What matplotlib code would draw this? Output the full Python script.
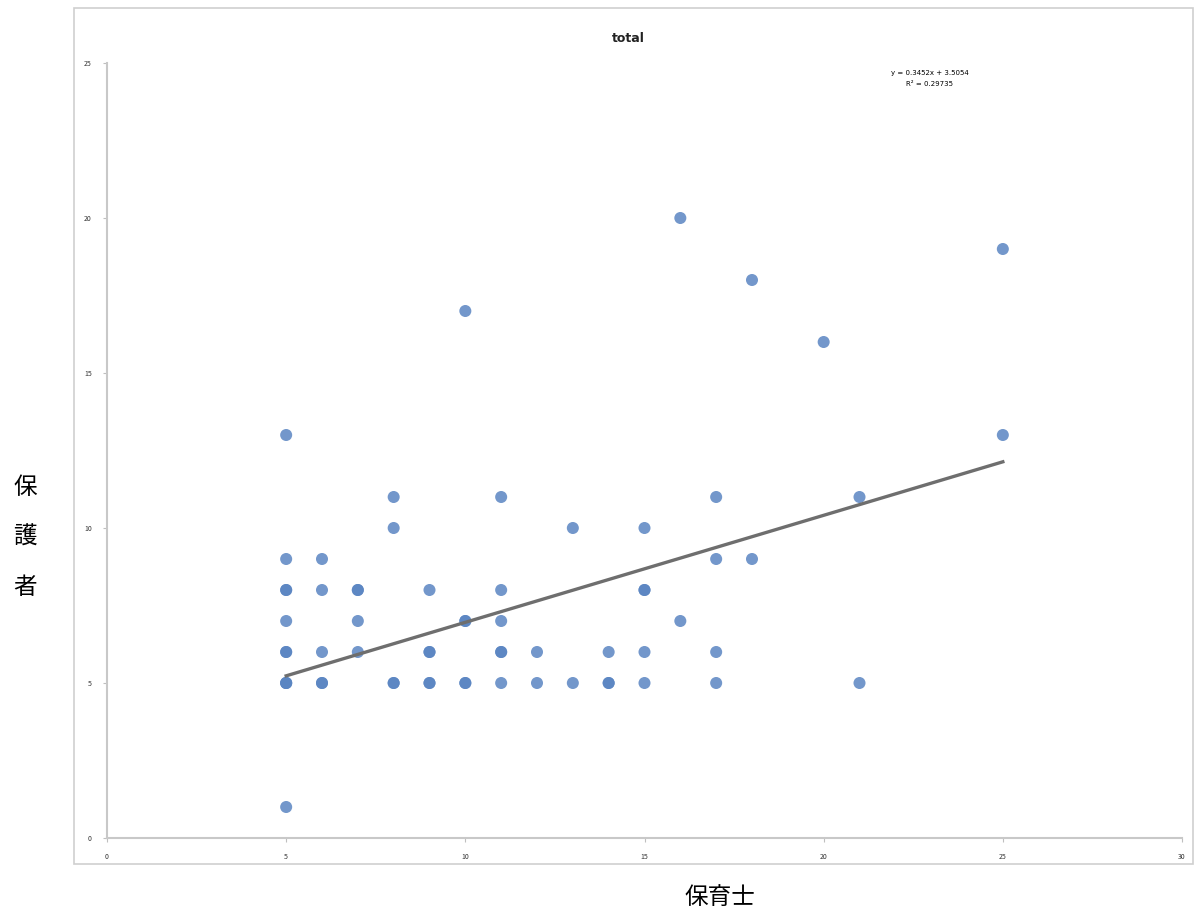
import numpy as np
import matplotlib.pyplot as plt
from matplotlib.patches import Rectangle

plt.rcParams['font.family'] = ['Noto Sans CJK JP', 'DejaVu Sans']

# observed pairs (保育士, 保護者); repeated pairs show as darker dots
x_vals = [5, 5, 5, 5, 5, 5, 5, 5, 5, 5, 5,
          6, 6, 6, 6, 6,
          7, 7, 7, 7,
          8, 8, 8, 8,
          9, 9, 9, 9, 9,
          10, 10, 10, 10, 10,
          11, 11, 11, 11, 11, 11,
          12, 12,
          13, 13,
          14, 14, 14,
          15, 15, 15, 15, 15,
          16, 16,
          17, 17, 17, 17,
          18, 18,
          20,
          21, 21,
          25, 25]
y_vals = [13, 9, 8, 8, 7, 6, 6, 5, 5, 5, 1,
          9, 8, 6, 5, 5,
          8, 8, 7, 6,
          11, 10, 5, 5,
          8, 6, 6, 5, 5,
          17, 7, 7, 5, 5,
          11, 8, 7, 6, 6, 5,
          6, 5,
          10, 5,
          6, 5, 5,
          10, 8, 8, 6, 5,
          20, 7,
          11, 9, 6, 5,
          18, 9,
          16,
          11, 5,
          19, 13]

# trendline shown on the chart
slope = 0.3452
intercept = 3.5054
r_squared = 0.29735
trend_x = [5, 25]

x_ticks = [0, 5, 10, 15, 20, 25, 30]
y_ticks = [0, 5, 10, 15, 20, 25]

fig = plt.figure(figsize=(11.94, 9.16), dpi=100)
fig.patches.append(Rectangle((74 / 1194, 1 - 864 / 916), 1119 / 1194, 856 / 916,
                             transform=fig.transFigure, fill=False,
                             edgecolor='#cfcfcf', linewidth=1.2))

ax = fig.add_axes([107 / 1194, 78 / 916, 1075 / 1194, 775 / 916])
ax.scatter(x_vals, y_vals, s=75, color='#5a85c2', alpha=0.85,
           edgecolors='none', zorder=3)
tx = np.array(trend_x, dtype=float)
ax.plot(tx, slope * tx + intercept, color='#6e6e6e', linewidth=2.4, zorder=4)

ax.set_xlim(0, 30)
ax.set_ylim(0, 25)
ax.set_xticks(x_ticks)
ax.set_yticks(y_ticks)
ax.tick_params(labelsize=5, colors='#bfbfbf', labelcolor='#333333',
               length=3, pad=8)
for side in ['top', 'right']:
    ax.spines[side].set_visible(False)
for side in ['left', 'bottom']:
    ax.spines[side].set_color('#c8c8c8')
    ax.spines[side].set_linewidth(1.5)

fig.text(628 / 1194, 1 - 38 / 916, 'total', fontsize=9, fontweight='bold',
         family='DejaVu Sans', ha='center', va='center', color='#222222')
fig.text(930 / 1194, 1 - 73 / 916,
         f'y = {slope}x + {intercept}', fontsize=5,
         ha='center', va='center', family='DejaVu Sans')
fig.text(930 / 1194, 1 - 84 / 916,
         f'R² = {r_squared}', fontsize=5,
         ha='center', va='center', family='DejaVu Sans')

for ch, yp in zip('保護者', [488, 537, 587]):
    fig.text(25 / 1194, 1 - yp / 916, ch, fontsize=17,
             ha='center', va='center')
fig.text(720 / 1194, 1 - 898 / 916, '保育士', fontsize=17,
         ha='center', va='center')

fig.savefig('out.png', dpi=100)
